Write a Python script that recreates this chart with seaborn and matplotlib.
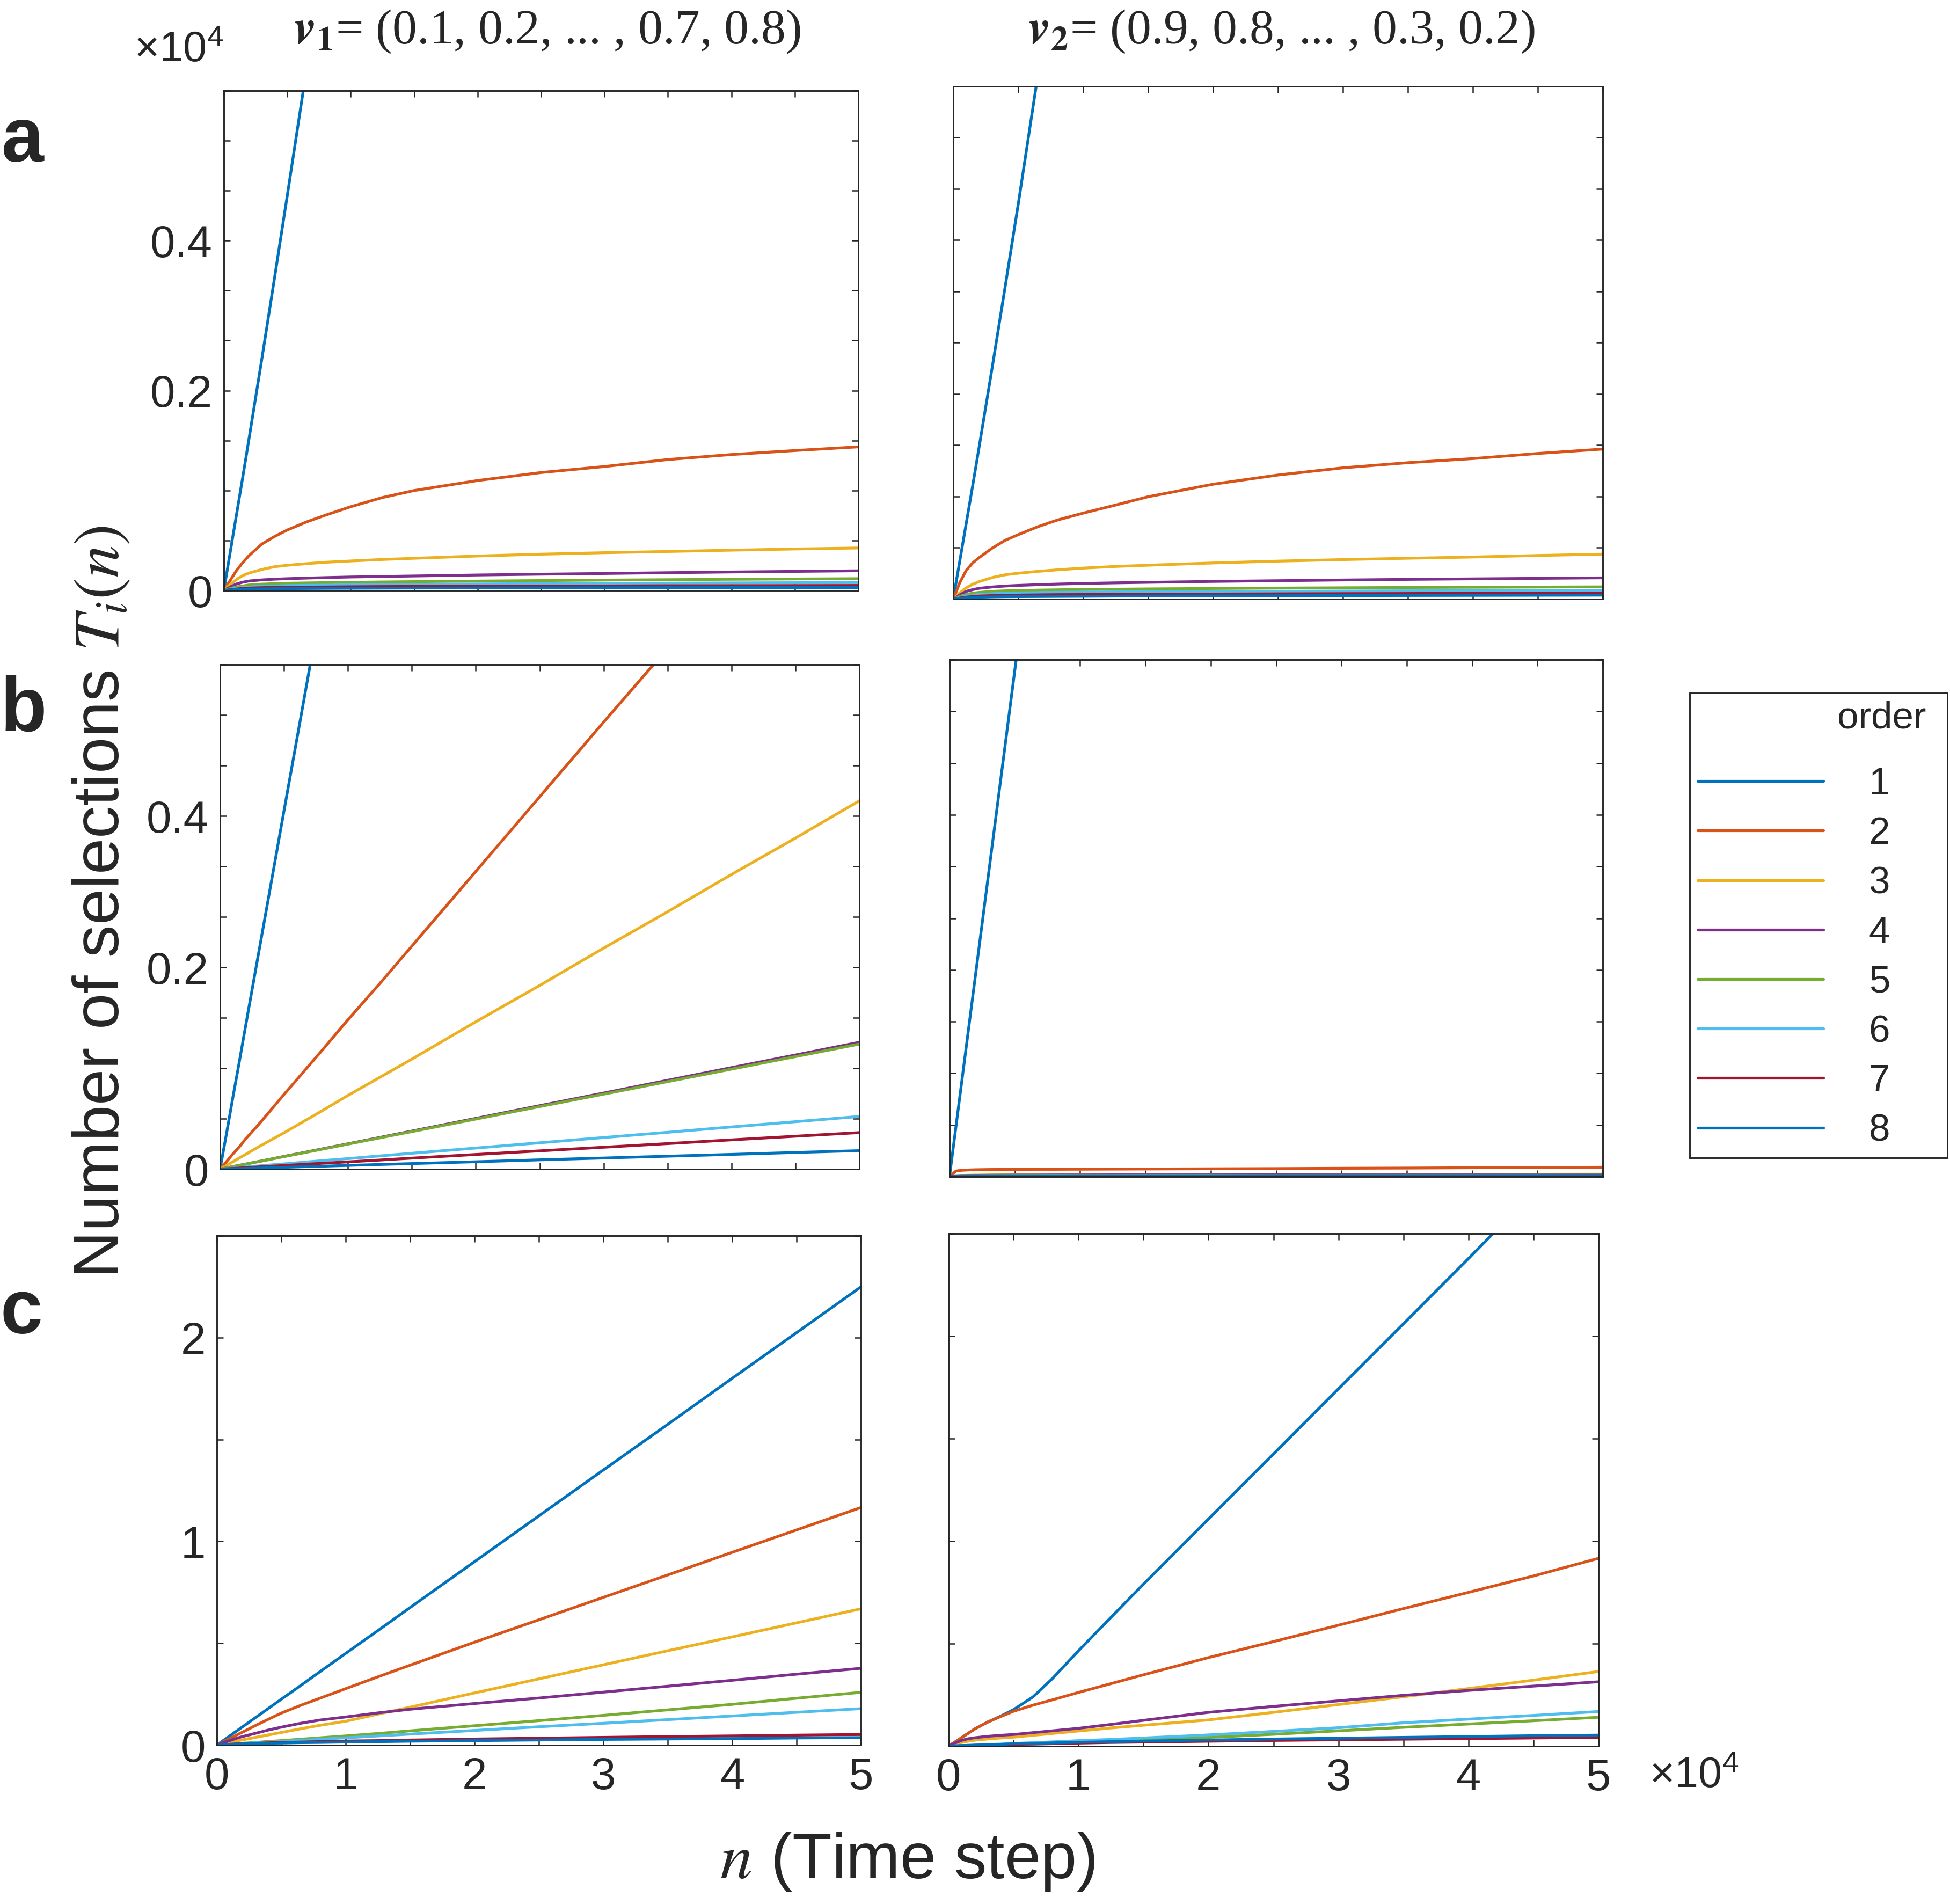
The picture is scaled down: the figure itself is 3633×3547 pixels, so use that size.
import matplotlib
matplotlib.use("Agg")
import matplotlib.pyplot as plt
from matplotlib import font_manager
from matplotlib.patches import Rectangle
import seaborn as sns
import pandas as pd

# time steps (x 10^4) shared by every panel
X_N = [0, 0.05, 0.1, 0.15, 0.2, 0.3, 0.4, 0.5, 0.65, 0.8, 1, 1.25, 1.5, 2, 2.5, 3, 3.5, 4, 4.5, 5]
ORDERS = ["1", "2", "3", "4", "5", "6", "7", "8"]
COLORS = ["#0072BD", "#D95319", "#EDB120", "#7E2F8E",
          "#77AC30", "#4DBEEE", "#A2142F", "#0072BD"]

# row a, v1 (one list per order)
A1 = [
    [0, 0.038, 0.076, 0.114, 0.153, 0.232, 0.313, 0.395, 0.52, 0.645, 0.815, 1.03, 1.24, 1.67, 2.1, 2.53, 2.96, 3.39, 3.82, 4.25],
    [0, 0.010, 0.020, 0.028, 0.035, 0.0465, 0.054, 0.0605, 0.0685, 0.0753, 0.0838, 0.093, 0.1, 0.110, 0.118, 0.124, 0.131, 0.136, 0.140, 0.1437],
    [0, 0.006, 0.011, 0.015, 0.0175, 0.021, 0.0238, 0.0252, 0.0268, 0.0282, 0.0295, 0.031, 0.0322, 0.0345, 0.0363, 0.0378, 0.039, 0.0403, 0.0415, 0.0425],
    [0, 0.0035, 0.0065, 0.0083, 0.0095, 0.0106, 0.0113, 0.0118, 0.0124, 0.0129, 0.0135, 0.014, 0.0145, 0.0155, 0.0163, 0.017, 0.0178, 0.0185, 0.0191, 0.0197],
    [0, 0.002, 0.0035, 0.0045, 0.0055, 0.0063, 0.0068, 0.0072, 0.0075, 0.0078, 0.0081, 0.0085, 0.0088, 0.0094, 0.0099, 0.0104, 0.0108, 0.0112, 0.0115, 0.0118],
    [0, 0.0012, 0.0022, 0.003, 0.0035, 0.0041, 0.0045, 0.0048, 0.0051, 0.0053, 0.0056, 0.0059, 0.0061, 0.0065, 0.0068, 0.0071, 0.0073, 0.0075, 0.0077, 0.0079],
    [0, 0.0008, 0.0015, 0.002, 0.0024, 0.0028, 0.003, 0.0032, 0.0034, 0.0035, 0.0037, 0.0039, 0.004, 0.0042, 0.0044, 0.0045, 0.0047, 0.0048, 0.0049, 0.005],
    [0, 0.0005, 0.0009, 0.0012, 0.0014, 0.0016, 0.0018, 0.0019, 0.002, 0.0021, 0.0022, 0.0023, 0.0024, 0.0025, 0.0026, 0.0027, 0.0028, 0.0029, 0.0029, 0.003],
]
# row a, v2
A2 = [
    [0, 0.037, 0.074, 0.111, 0.149, 0.226, 0.305, 0.385, 0.51, 0.635, 0.8, 1.01, 1.22, 1.64, 2.06, 2.48, 2.9, 3.32, 3.74, 4.16],
    [0, 0.016, 0.028, 0.0353, 0.0405, 0.0497, 0.0573, 0.0628, 0.0705, 0.077, 0.0838, 0.0917, 0.0998, 0.112, 0.121, 0.128, 0.133, 0.137, 0.142, 0.1463],
    [0, 0.006, 0.011, 0.0145, 0.017, 0.021, 0.0237, 0.0252, 0.027, 0.0285, 0.0302, 0.0318, 0.033, 0.0352, 0.037, 0.0385, 0.0398, 0.041, 0.0425, 0.0438],
    [0, 0.004, 0.0075, 0.0092, 0.0105, 0.0118, 0.0127, 0.0133, 0.014, 0.0146, 0.0152, 0.0158, 0.0163, 0.0172, 0.0179, 0.0186, 0.0192, 0.0197, 0.0202, 0.0207],
    [0, 0.0025, 0.0045, 0.0057, 0.0065, 0.0075, 0.008, 0.0083, 0.0087, 0.009, 0.0093, 0.0096, 0.0099, 0.0103, 0.0107, 0.011, 0.0113, 0.0115, 0.0117, 0.0119],
    [0, 0.0015, 0.003, 0.0038, 0.0044, 0.0052, 0.0057, 0.006, 0.0063, 0.0066, 0.0068, 0.007, 0.0072, 0.0074, 0.0076, 0.0078, 0.008, 0.0081, 0.0083, 0.0084],
    [0, 0.001, 0.0019, 0.0025, 0.0029, 0.0034, 0.0037, 0.0039, 0.0041, 0.0043, 0.0044, 0.0046, 0.0047, 0.0049, 0.0051, 0.0053, 0.0054, 0.0056, 0.0057, 0.0058],
    [0, 0.0006, 0.0011, 0.0015, 0.0018, 0.0021, 0.0023, 0.0024, 0.0025, 0.0026, 0.0027, 0.0029, 0.003, 0.0031, 0.0032, 0.0034, 0.0035, 0.0036, 0.0037, 0.0038],
]
# row b, v1
B1 = [
    [0, 0.035, 0.071, 0.106, 0.142, 0.213, 0.284, 0.355, 0.461, 0.567, 0.709, 0.886, 1.06, 1.42, 1.77, 2.13, 2.48, 2.84, 3.19, 3.55],
    [0, 0.0074, 0.015, 0.022, 0.03, 0.044, 0.059, 0.074, 0.096, 0.118, 0.148, 0.184, 0.221, 0.295, 0.369, 0.443, 0.516, 0.59, 0.664, 0.738],
    [0, 0.0036, 0.0073, 0.011, 0.0146, 0.022, 0.029, 0.036, 0.047, 0.058, 0.073, 0.091, 0.109, 0.146, 0.182, 0.219, 0.255, 0.292, 0.328, 0.365],
    [0, 0.0013, 0.0025, 0.0038, 0.005, 0.0075, 0.01, 0.0126, 0.0163, 0.0201, 0.0251, 0.0314, 0.0377, 0.0503, 0.0629, 0.0754, 0.088, 0.1006, 0.1131, 0.1257],
    [0, 0.0012, 0.0025, 0.0037, 0.005, 0.0074, 0.0099, 0.0124, 0.0161, 0.0198, 0.0248, 0.031, 0.0372, 0.0496, 0.062, 0.0743, 0.0867, 0.0991, 0.1115, 0.1239],
    [0, 0.0005, 0.001, 0.0016, 0.0021, 0.0031, 0.0042, 0.0052, 0.0068, 0.0084, 0.0104, 0.0131, 0.0157, 0.0209, 0.0261, 0.0313, 0.0365, 0.0418, 0.047, 0.0522],
    [0, 0.0004, 0.0007, 0.0011, 0.0014, 0.0022, 0.0029, 0.0036, 0.0047, 0.0058, 0.0072, 0.009, 0.0109, 0.0145, 0.0181, 0.0217, 0.0253, 0.029, 0.0326, 0.0362],
    [0, 0.0002, 0.0004, 0.0005, 0.0007, 0.0011, 0.0015, 0.0018, 0.0024, 0.0029, 0.0037, 0.0046, 0.0055, 0.0073, 0.0092, 0.011, 0.0128, 0.0146, 0.0165, 0.0183],
]
# row b, v2
B2 = [
    [0, 0.049, 0.098, 0.147, 0.196, 0.294, 0.392, 0.49, 0.637, 0.784, 0.98, 1.225, 1.47, 1.96, 2.45, 2.94, 3.43, 3.92, 4.41, 4.9],
    [0, 0.0055, 0.0062, 0.0065, 0.0067, 0.0069, 0.007, 0.007, 0.0071, 0.0071, 0.0072, 0.0073, 0.0074, 0.0076, 0.0078, 0.0081, 0.0083, 0.0086, 0.0088, 0.0091],
    [0, 0.001, 0.0012, 0.0014, 0.0015, 0.0017, 0.0018, 0.0018, 0.0019, 0.0019, 0.002, 0.002, 0.002, 0.0021, 0.0021, 0.0022, 0.0022, 0.0023, 0.0023, 0.0024],
    [0, 0.0008, 0.001, 0.0011, 0.0012, 0.0013, 0.0014, 0.0015, 0.0015, 0.0016, 0.0016, 0.0017, 0.0017, 0.0017, 0.0018, 0.0018, 0.0018, 0.0019, 0.0019, 0.002],
    [0, 0.0006, 0.0008, 0.0009, 0.0009, 0.001, 0.001, 0.0011, 0.0011, 0.0012, 0.0012, 0.0012, 0.0013, 0.0013, 0.0013, 0.0014, 0.0014, 0.0014, 0.0015, 0.0015],
    [0, 0.0005, 0.0006, 0.0007, 0.0007, 0.0008, 0.0008, 0.0009, 0.0009, 0.001, 0.001, 0.001, 0.0011, 0.0011, 0.0011, 0.0012, 0.0012, 0.0012, 0.0012, 0.0013],
    [0, 0.0004, 0.0005, 0.0006, 0.0006, 0.0007, 0.0007, 0.0008, 0.0008, 0.0008, 0.0009, 0.0009, 0.0009, 0.0009, 0.001, 0.001, 0.001, 0.001, 0.001, 0.0011],
    [0, 0.0003, 0.0004, 0.0004, 0.0005, 0.0005, 0.0006, 0.0006, 0.0006, 0.0007, 0.0007, 0.0007, 0.0007, 0.0007, 0.0008, 0.0008, 0.0008, 0.0008, 0.0009, 0.0009],
]
# row c, v1
C1 = [
    [0, 0.0225, 0.045, 0.0675, 0.09, 0.135, 0.18, 0.225, 0.292, 0.36, 0.45, 0.562, 0.675, 0.9, 1.125, 1.35, 1.574, 1.8, 2.024, 2.249],
    [0, 0.016, 0.032, 0.048, 0.064, 0.096, 0.127, 0.157, 0.195, 0.23, 0.277, 0.335, 0.392, 0.505, 0.615, 0.725, 0.835, 0.946, 1.056, 1.166],
    [0, 0.007, 0.014, 0.02, 0.026, 0.038, 0.05, 0.062, 0.08, 0.097, 0.117, 0.152, 0.186, 0.256, 0.325, 0.394, 0.463, 0.531, 0.6, 0.669],
    [0, 0.012, 0.022, 0.033, 0.042, 0.058, 0.074, 0.088, 0.107, 0.123, 0.138, 0.158, 0.176, 0.204, 0.231, 0.26, 0.289, 0.318, 0.348, 0.377],
    [0, 0.002, 0.004, 0.006, 0.009, 0.013, 0.018, 0.022, 0.029, 0.036, 0.045, 0.057, 0.07, 0.095, 0.12, 0.146, 0.173, 0.2, 0.23, 0.259],
    [0, 0.0018, 0.0036, 0.0054, 0.0072, 0.011, 0.014, 0.018, 0.023, 0.029, 0.036, 0.045, 0.054, 0.072, 0.09, 0.107, 0.125, 0.143, 0.161, 0.179],
    [0, 0.002, 0.004, 0.0055, 0.007, 0.009, 0.011, 0.013, 0.015, 0.017, 0.02, 0.022, 0.025, 0.03, 0.034, 0.038, 0.042, 0.045, 0.049, 0.052],
    [0, 0.0015, 0.003, 0.0045, 0.006, 0.007, 0.009, 0.01, 0.012, 0.013, 0.015, 0.017, 0.019, 0.022, 0.025, 0.028, 0.03, 0.032, 0.035, 0.037],
]
# row c, v2
C2 = [
    [0, 0.02, 0.041, 0.062, 0.083, 0.117, 0.146, 0.178, 0.24, 0.33, 0.465, 0.628, 0.79, 1.108, 1.425, 1.743, 2.06, 2.378, 2.7, 3.01],
    [0, 0.02, 0.041, 0.062, 0.083, 0.117, 0.144, 0.17, 0.2, 0.226, 0.262, 0.305, 0.348, 0.432, 0.51, 0.59, 0.671, 0.75, 0.83, 0.916],
    [0, 0.01, 0.018, 0.024, 0.029, 0.035, 0.04, 0.044, 0.053, 0.062, 0.074, 0.089, 0.102, 0.128, 0.165, 0.203, 0.241, 0.281, 0.322, 0.364],
    [0, 0.015, 0.028, 0.036, 0.041, 0.048, 0.053, 0.057, 0.066, 0.075, 0.087, 0.106, 0.126, 0.165, 0.194, 0.221, 0.248, 0.272, 0.293, 0.314],
    [0, 0.001, 0.002, 0.003, 0.004, 0.006, 0.008, 0.01, 0.012, 0.015, 0.02, 0.025, 0.03, 0.043, 0.058, 0.075, 0.092, 0.108, 0.124, 0.141],
    [0, 0.0015, 0.003, 0.004, 0.005, 0.008, 0.01, 0.013, 0.017, 0.021, 0.027, 0.033, 0.04, 0.055, 0.072, 0.09, 0.114, 0.132, 0.15, 0.169],
    [0, 0.001, 0.002, 0.003, 0.004, 0.005, 0.007, 0.009, 0.01, 0.012, 0.015, 0.018, 0.02, 0.024, 0.028, 0.031, 0.034, 0.037, 0.04, 0.043],
    [0, 0.0015, 0.003, 0.004, 0.005, 0.007, 0.009, 0.012, 0.014, 0.016, 0.019, 0.022, 0.025, 0.03, 0.035, 0.039, 0.043, 0.047, 0.051, 0.054],
]

AB_TICKS = [0, 0.05, 0.1, 0.15, 0.2, 0.25, 0.3, 0.35, 0.4, 0.45, 0.5]
AB_LABELS = ["0", "", "", "", "0.2", "", "", "0.4", "", "", ""]
C_TICKS = [0, 0.5, 1, 1.5, 2, 2.5]
C_LABELS = ["0", "", "1", "", "2", ""]
X_TICKS = [0, 0.5, 1, 1.5, 2, 2.5, 3, 3.5, 4, 4.5, 5]
X_LABELS = ["0", "", "1", "", "2", "", "3", "", "4", "", "5"]

W, H = 3633, 3547

sns.set_theme(style="ticks")
names = {f.name for f in font_manager.fontManager.ttflist}
SANS = "Liberation Sans Narrow" if "Liberation Sans Narrow" in names else "Liberation Sans"
plt.rcParams["font.family"] = [SANS, "DejaVu Sans"]
plt.rcParams["mathtext.fontset"] = "stix"
plt.rcParams["axes.edgecolor"] = "#262626"
plt.rcParams["axes.linewidth"] = 0.7


def frac(x0, x1, y0, y1):
    return [x0 / W, 1 - y1 / H, (x1 - x0) / W, (y1 - y0) / H]


panels = [
    (A1, (417, 1599, 169, 1100), "ab", True, False),
    (A2, (1776, 2986, 161, 1116), "ab", False, False),
    (B1, (410, 1601, 1238, 2178), "ab", True, False),
    (B2, (1769, 2986, 1229, 2192), "ab", False, False),
    (C1, (404, 1604, 2302, 3251), "c", True, True),
    (C2, (1767, 2978, 2298, 3253), "c", False, True),
]

fig = plt.figure(figsize=(W / 300, H / 300), dpi=300)
palette = dict(zip(ORDERS, COLORS))
axes = []
for vals, pos, kind, ylab, xlab in panels:
    ax = fig.add_axes(frac(*pos))
    rows = []
    for o, ys in zip(ORDERS, vals):
        for x, y in zip(X_N, ys):
            rows.append({"n": x, "T": y, "order": o})
    df = pd.DataFrame(rows)
    sns.lineplot(data=df, x="n", y="T", hue="order", hue_order=ORDERS,
                 palette=palette, estimator=None, lw=1.25, legend=False, ax=ax)
    ax.set_xlim(0, 5)
    if kind == "ab":
        ax.set_ylim(0, 0.5)
        ax.set_yticks(AB_TICKS, AB_LABELS if ylab else [""] * len(AB_TICKS))
    else:
        ax.set_ylim(0, 2.5)
        ax.set_yticks(C_TICKS, C_LABELS if ylab else [""] * len(C_TICKS))
    ax.set_xticks(X_TICKS, X_LABELS if xlab else [""] * len(X_TICKS))
    ax.tick_params(direction="in", top=True, right=True, length=2.8, width=0.6,
                   color="#262626", labelsize=20, pad=5)
    ax.set_xlabel("")
    ax.set_ylabel("")
    axes.append(ax)

# column titles
fig.text(1019 / W, 1 - 59 / H, r"$\mathbfit{v}_\mathbf{1}$= (0.1, 0.2, ... , 0.7, 0.8)",
         family="Liberation Serif", fontsize=22, ha="center", va="center")
fig.text(2387 / W, 1 - 59 / H, r"$\mathbfit{v}_\mathbf{2}$= (0.9, 0.8, ... , 0.3, 0.2)",
         family="Liberation Serif", fontsize=22, ha="center", va="center")

# multipliers
fig.text(333 / W, 1 - 95 / H, r"×10$^{\mathregular{4}}$", fontsize=19, ha="center", va="center")
fig.text(3156 / W, 1 - 3309 / H, r"×10$^{\mathregular{4}}$", fontsize=19, ha="center", va="center")

# panel letters
for letter, (px, py) in zip("abc", [(42, 264), (44, 1325), (40, 2447)]):
    fig.text(px / W, 1 - py / H, letter, fontsize=34, fontweight="bold",
             ha="center", va="center")

# axis labels
fig.text(190 / W, 1 - 1680 / H, r"Number of selections $T_i(n)$", fontsize=29,
         rotation=90, ha="center", va="center")
fig.text(1691 / W, 1 - 3468 / H, r"$n$ (Time step)", fontsize=29,
         ha="center", va="center")

# legend
handles = axes[4].get_lines()[:8]
fig.legend(handles, ORDERS, loc="upper left",
           bbox_to_anchor=(3163 / W, 1 - 1429 / H), frameon=False,
           fontsize=17, handlelength=3.3, handletextpad=1.2,
           labelspacing=0.37, borderpad=0, borderaxespad=0)
fig.text(3506 / W, 1 - 1338 / H, "order", fontsize=17, ha="center", va="center")
fig.patches.append(Rectangle((3148 / W, 1 - 2157 / H), (3628 - 3148) / W,
                             (2157 - 1291) / H, transform=fig.transFigure,
                             fill=False, edgecolor="#262626", lw=0.7))

fig.savefig("out.png", dpi=300, facecolor="white")
